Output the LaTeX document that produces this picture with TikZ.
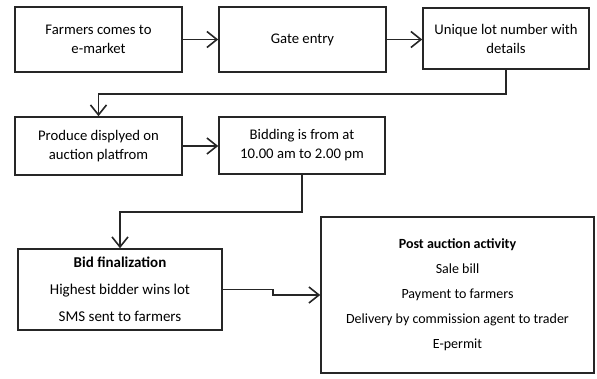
\documentclass[tikz,border=0pt]{standalone}
\usepackage{fontspec}
\setmainfont{Carlito}
\usetikzlibrary{arrows.meta}
\begin{document}
\begin{tikzpicture}[x=1pt,y=-1pt,
  box/.style={draw=black!85, line width=1.6pt, align=center, inner sep=0pt,
    font=\fontsize{14.7}{19}\selectfont},
  flow/.style={draw=black!85, line width=1.6pt,
    -{Straight Barb[length=10pt,width=16pt,line width=1.6pt]}}]
  \useasboundingbox (0,0) rectangle (597,378);
  % first row
  \node[box, minimum width=167pt, minimum height=65pt] (farm) at (98.5,39.5) {Farmers comes to\\e-market};
  \node[box, minimum width=167pt, minimum height=65pt] (gate) at (302.5,39.5) {Gate entry};
  \node[box, minimum width=166pt, minimum height=61pt] (lot) at (506,38.5) {Unique lot number with\\details};
  % second row
  \node[box, minimum width=167pt, minimum height=58pt] (disp) at (98.5,146) {Produce displyed on\\auction platfrom};
  \node[box, minimum width=166pt, minimum height=57pt] (bid) at (302,145.5) {Bidding is from at\\10.00 am to 2.00 pm};
  % third row
  \node[box, minimum width=204pt, minimum height=81pt, font=\fontsize{15}{27}\selectfont] (final) at (120,289.5)
    {\textbf{Bid finalization}\\Highest bidder wins lot\\SMS sent to farmers};
  \node[box, minimum width=273pt, minimum height=156pt, font=\fontsize{14}{25}\selectfont] (post) at (457.5,295)
    {\textbf{Post auction activity}\\Sale bill\\Payment to farmers\\Delivery by commission agent to trader\\E-permit};
  % connectors
  \draw[flow] (farm.east) -- (gate.west);
  \draw[flow] (gate.east) -- (lot.west |- gate.east);
  \draw[flow] (lot.south) -- ++(0,24) -| (disp.north);
  \draw[flow] (disp.east) -- (bid.west |- disp.east);
  \draw[flow] (bid.south) -- ++(0,37) -| (final.north);
  \draw[flow] (final.east) -- ++(50,0) |- (post.west);
\end{tikzpicture}
\end{document}
